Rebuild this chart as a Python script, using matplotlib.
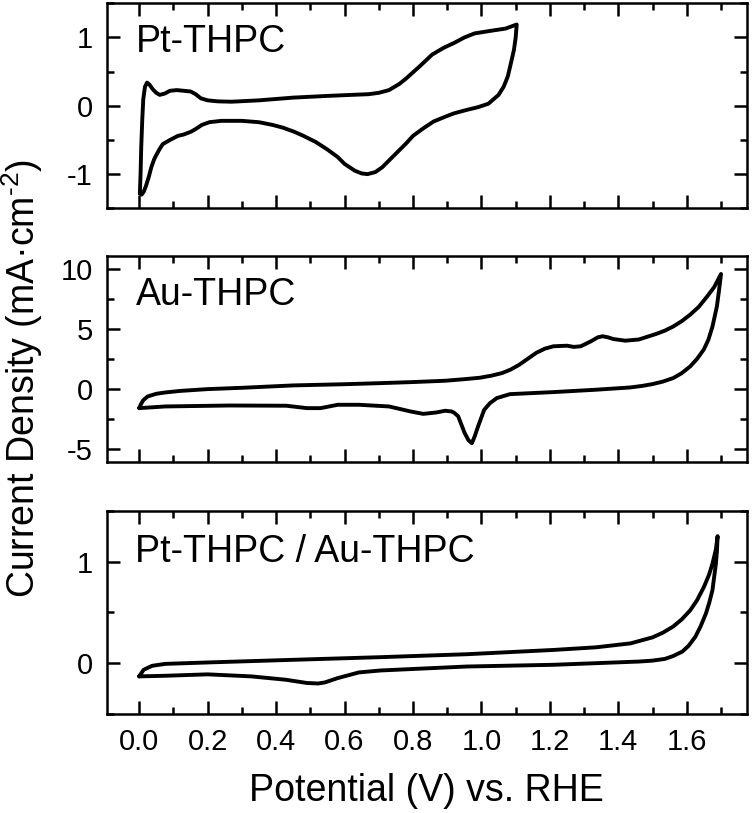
import matplotlib
matplotlib.use("Agg")
import matplotlib.pyplot as plt
from matplotlib.ticker import FixedLocator, MultipleLocator

plt.rcParams['font.family'] = ['Liberation Sans', 'DejaVu Sans']
plt.rcParams['axes.unicode_minus'] = False
plt.rcParams['mathtext.fontset'] = 'custom'
plt.rcParams['mathtext.rm'] = 'Liberation Sans'
plt.rcParams['mathtext.default'] = 'regular'

# ---------------- data ----------------
# Pt-THPC: anodic sweep then cathodic sweep (V, mA/cm2)
pt_an_x = [0.002, 0.004, 0.006, 0.009, 0.012, 0.017, 0.023, 0.03, 0.04, 0.05, 0.06, 0.075, 0.09,
           0.11, 0.13, 0.15, 0.165, 0.18, 0.2, 0.23, 0.27, 0.35, 0.45, 0.55, 0.62, 0.67, 0.70,
           0.73, 0.76, 0.78, 0.82, 0.856, 0.89, 0.92, 0.95, 0.98, 1.03, 1.07, 1.103]
pt_an_y = [-1.28, -1.0, -0.6, -0.2, 0.1, 0.28, 0.34, 0.31, 0.24, 0.19, 0.16, 0.18, 0.22,
           0.23, 0.22, 0.21, 0.17, 0.11, 0.08, 0.065, 0.06, 0.08, 0.12, 0.145, 0.16, 0.17, 0.19,
           0.23, 0.32, 0.40, 0.58, 0.75, 0.85, 0.92, 1.0, 1.06, 1.10, 1.13, 1.19]
pt_ca_x = [1.103, 1.10, 1.095, 1.085, 1.077, 1.065, 1.05, 1.02, 0.99, 0.957, 0.92, 0.894, 0.86,
           0.83, 0.80, 0.78, 0.75, 0.73, 0.71, 0.69, 0.667, 0.65, 0.63, 0.60, 0.58, 0.55, 0.516,
           0.48, 0.453, 0.42, 0.39, 0.35, 0.30, 0.24, 0.205, 0.183, 0.165, 0.151, 0.13, 0.113,
           0.09, 0.069, 0.06, 0.05, 0.044, 0.036, 0.028, 0.02, 0.013, 0.007, 0.002]
pt_ca_y = [1.19, 1.0, 0.82, 0.6, 0.43, 0.28, 0.16, 0.03, -0.02, -0.06, -0.11, -0.16, -0.23,
           -0.33, -0.44, -0.55, -0.70, -0.80, -0.90, -0.97, -1.00, -0.99, -0.95, -0.85, -0.75, -0.64, -0.53,
           -0.44, -0.38, -0.32, -0.28, -0.24, -0.22, -0.22, -0.24, -0.28, -0.34, -0.38, -0.42, -0.44,
           -0.50, -0.56, -0.63, -0.72, -0.78, -0.89, -1.04, -1.17, -1.26, -1.30, -1.28]

# Au-THPC
au_an_x = [0.0, 0.005, 0.012, 0.025, 0.05, 0.076, 0.12, 0.2, 0.3, 0.45, 0.6, 0.705, 0.8, 0.894,
           0.95, 0.995, 1.03, 1.06, 1.085, 1.11, 1.135, 1.16, 1.185, 1.21, 1.25, 1.27, 1.29, 1.32,
           1.34, 1.354, 1.37, 1.385, 1.42, 1.46, 1.51, 1.535, 1.56, 1.585, 1.61, 1.635, 1.66, 1.68, 1.70]
au_an_y = [-1.62, -1.3, -0.95, -0.64, -0.42, -0.31, -0.18, -0.03, 0.08, 0.28, 0.38, 0.47, 0.56, 0.67,
           0.8, 0.92, 1.1, 1.31, 1.6, 2.0, 2.5, 3.0, 3.35, 3.55, 3.6, 3.5, 3.55, 3.97,
           4.3, 4.39, 4.3, 4.16, 4.02, 4.12, 4.58, 4.85, 5.2, 5.65, 6.2, 6.85, 7.74, 8.5, 9.6]
au_ca_x = [1.70, 1.694, 1.688, 1.675, 1.663, 1.65, 1.63, 1.61, 1.585, 1.56, 1.53, 1.5, 1.47, 1.435,
           1.335, 1.21, 1.083, 1.045, 1.025, 1.008, 0.99, 0.98, 0.972, 0.962, 0.951, 0.94, 0.932,
           0.92, 0.913, 0.894, 0.869, 0.83, 0.793, 0.73, 0.642, 0.58, 0.53, 0.49, 0.43, 0.265,
           0.076, 0.0]
au_ca_y = [9.6, 8.2, 6.9, 5.2, 4.1, 3.3, 2.5, 1.87, 1.3, 0.89, 0.6, 0.39, 0.24, 0.11,
           -0.08, -0.28, -0.45, -0.78, -1.2, -1.76, -3.16, -4.0, -4.55, -4.3, -3.7, -2.9, -2.3,
           -2.0, -1.9, -1.84, -1.98, -2.1, -1.9, -1.48, -1.34, -1.34, -1.62, -1.62, -1.42, -1.4,
           -1.48, -1.62]

# Pt-THPC / Au-THPC
pa_an_x = [0.0, 0.013, 0.038, 0.076, 0.2, 0.45, 0.705, 0.957, 1.21, 1.335, 1.436, 1.5, 1.53,
           1.56, 1.585, 1.61, 1.63, 1.65, 1.665, 1.675, 1.685, 1.69]
pa_an_y = [-0.13, -0.065, -0.026, -0.007, 0.007, 0.033, 0.059, 0.088, 0.13, 0.156, 0.195, 0.254, 0.3,
           0.36, 0.43, 0.52, 0.62, 0.75, 0.87, 0.98, 1.12, 1.25]
pa_ca_x = [1.69, 1.688, 1.685, 1.68, 1.675, 1.666, 1.656, 1.64, 1.625, 1.605, 1.587, 1.56, 1.536,
           1.5, 1.461, 1.21, 0.957, 0.705, 0.642, 0.58, 0.542, 0.523, 0.49, 0.428, 0.327, 0.2,
           0.076, 0.0]
pa_ca_y = [1.25, 1.1, 0.98, 0.85, 0.72, 0.6, 0.49, 0.36, 0.26, 0.17, 0.114, 0.07, 0.042,
           0.025, 0.016, -0.016, -0.033, -0.072, -0.091, -0.147, -0.19, -0.2, -0.195, -0.163, -0.13, -0.11,
           -0.124, -0.13]

panel_labels = ["Pt-THPC", "Au-THPC", "Pt-THPC / Au-THPC"]
x_ticks = [0.0, 0.2, 0.4, 0.6, 0.8, 1.0, 1.2, 1.4, 1.6]
x_ticklabels = ["0.0", "0.2", "0.4", "0.6", "0.8", "1.0", "1.2", "1.4", "1.6"]
y_ticks = [[-1, 0, 1], [-5, 0, 5, 10], [0, 1]]
y_minor = [0.5, 2.5, 0.5]
y_lims = [(-1.5, 1.5), (-6.1, 11.1), (-0.5, 1.5)]

# ---------------- figure ----------------
fig = plt.figure(figsize=(7.56, 8.13), dpi=100)
positions = [[0.1411, 0.7438, 0.8466, 0.2521],
             [0.1411, 0.4321, 0.8466, 0.2530],
             [0.1411, 0.1218, 0.8466, 0.2500]]
label_y = [0.764, 0.762, 0.749]

curves = [((pt_an_x, pt_an_y), (pt_ca_x, pt_ca_y)),
          ((au_an_x, au_an_y), (au_ca_x, au_ca_y)),
          ((pa_an_x, pa_an_y), (pa_ca_x, pa_ca_y))]

for i in range(3):
    ax = fig.add_axes(positions[i])
    xs = list(curves[i][0][0]) + list(curves[i][1][0])
    ys = list(curves[i][0][1]) + list(curves[i][1][1])
    ax.plot(xs, ys, color='black', lw=2.8, solid_joinstyle='round', solid_capstyle='round')
    ax.set_xlim(-0.095, 1.775)
    ax.set_ylim(*y_lims[i])
    ax.xaxis.set_major_locator(FixedLocator(x_ticks))
    ax.xaxis.set_minor_locator(MultipleLocator(0.1))
    ax.yaxis.set_major_locator(FixedLocator(y_ticks[i]))
    ax.yaxis.set_minor_locator(MultipleLocator(y_minor[i]))
    ax.tick_params(which='both', direction='in', top=True, right=True, width=1.8)
    ax.tick_params(which='major', length=9.5)
    ax.tick_params(which='minor', length=5)
    ax.tick_params(axis='y', labelsize=21, pad=10)
    ax.tick_params(axis='x', labelsize=21, pad=10)
    if i < 2:
        ax.set_xticklabels([])
    else:
        ax.set_xticklabels(x_ticklabels)
    ax.set_yticklabels([str(v) for v in y_ticks[i]])
    for s in ax.spines.values():
        s.set_linewidth(1.8)
    ax.text(0.045, label_y[i], panel_labels[i], transform=ax.transAxes,
            fontsize=27, ha='left', va='baseline')

fig.text(0.564, 0.0145, 'Potential (V) vs. RHE', fontsize=27, ha='center', va='baseline')
fig.text(0.030, 0.535, 'Current Density (mA\u00b7cm$^{\\text{-2}}$)', fontsize=27, rotation=90,
         ha='center', va='center')

fig.savefig('out.png', dpi=100)
